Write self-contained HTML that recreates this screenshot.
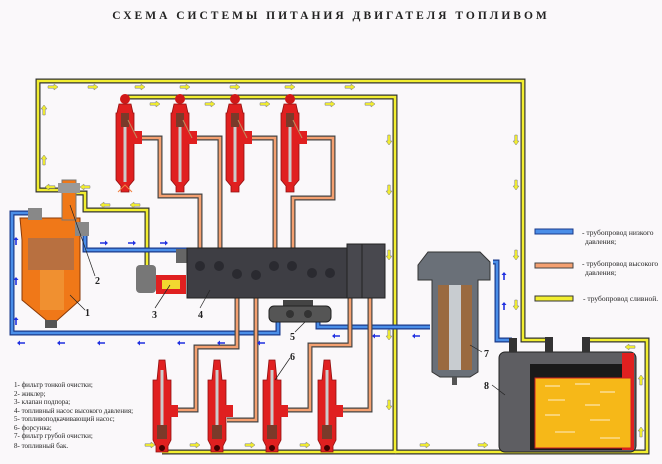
<!DOCTYPE html>
<html><head><meta charset="utf-8"><style>
html,body{margin:0;padding:0;background:#fbf9fb;}
svg{display:block}
text{font-family:"Liberation Serif",serif;}
</style></head><body>
<svg width="662" height="464" viewBox="0 0 662 464" xmlns="http://www.w3.org/2000/svg">
<defs>
<g id="ay"><path d="M0 -1.2 H6 V-3 L10 0 L6 3 V1.2 H0 Z" fill="#f2ee30" stroke="#777" stroke-width="0.5"/></g>
<g id="ab"><path d="M0 -0.8 H5 V-2.5 L8 0 L5 2.5 V0.8 H0 Z" fill="#2030e0"/></g>
</defs>
<rect width="662" height="464" fill="#faf8fa"/>
<text x="331" y="19" text-anchor="middle" font-size="11.5" font-weight="bold" letter-spacing="3" fill="#222">СХЕМА СИСТЕМЫ ПИТАНИЯ ДВИГАТЕЛЯ ТОПЛИВОМ</text>

<g fill="none" stroke-linejoin="miter">
<g stroke="#333" stroke-width="5">
<path d="M60 190 H38 V81 H523 V340 H548"/>
<path d="M125 97 H395 V452 H162"/>
<path d="M395 452 H647 V340 H588"/>
<path d="M70 193 H85 V210 H147 V265"/>
</g>
<g stroke="#f2ee30" stroke-width="2.6">
<path d="M60 190 H38 V81 H523 V340 H548"/>
<path d="M125 97 H395 V452 H162"/>
<path d="M395 452 H647 V340 H588"/>
<path d="M70 193 H85 V210 H147 V265"/>
</g>
<g stroke="#1a3a8a" stroke-width="5">
<path d="M28 213 H12 V333 H278 V320"/>
<path d="M85 228 V250 H185 V258"/>
<path d="M318 320 V327 H430"/>
<path d="M493 262 H497 V340 H512"/>
</g>
<g stroke="#4a8ee8" stroke-width="2.6">
<path d="M28 213 H12 V333 H278 V320"/>
<path d="M85 228 V250 H185 V258"/>
<path d="M318 320 V327 H430"/>
<path d="M493 262 H497 V340 H512"/>
</g>
<g stroke="#444" stroke-width="5">
<path d="M140 138 H160 V196 H200 V262"/>
<path d="M195 138 H220 V262"/>
<path d="M250 138 H275 V262"/>
<path d="M305 138 H333 V198 H293 V262"/>
<path d="M237 275 V347 H196 V410 H172"/>
<path d="M256 275 V420 H227"/>
<path d="M312 285 V292 H350 V345 H310 V410 H282"/>
<path d="M330 285 V289 H370 V410 H337"/>
</g>
<g stroke="#f4a070" stroke-width="2.6">
<path d="M140 138 H160 V196 H200 V262"/>
<path d="M195 138 H220 V262"/>
<path d="M250 138 H275 V262"/>
<path d="M305 138 H333 V198 H293 V262"/>
<path d="M237 275 V347 H196 V410 H172"/>
<path d="M256 275 V420 H227"/>
<path d="M312 285 V292 H350 V345 H310 V410 H282"/>
<path d="M330 285 V289 H370 V410 H337"/>
</g>
</g>

<use href="#ay" x="48" y="87"/><use href="#ay" x="88" y="87"/><use href="#ay" x="135" y="87"/><use href="#ay" x="180" y="87"/><use href="#ay" x="230" y="87"/><use href="#ay" x="285" y="87"/><use href="#ay" x="345" y="87"/>
<use href="#ay" x="150" y="104"/><use href="#ay" x="205" y="104"/><use href="#ay" x="260" y="104"/><use href="#ay" x="325" y="104"/><use href="#ay" x="365" y="104"/>
<use href="#ay" x="145" y="445"/><use href="#ay" x="190" y="445"/><use href="#ay" x="245" y="445"/><use href="#ay" x="300" y="445"/><use href="#ay" x="420" y="445"/><use href="#ay" x="478" y="445"/><use href="#ay" x="538" y="445"/><use href="#ay" x="598" y="445"/>
<g transform="rotate(90)"><use href="#ay" x="135" y="-389"/><use href="#ay" x="185" y="-389"/><use href="#ay" x="250" y="-389"/><use href="#ay" x="330" y="-389"/><use href="#ay" x="400" y="-389"/><use href="#ay" x="135" y="-516"/><use href="#ay" x="180" y="-516"/><use href="#ay" x="250" y="-516"/><use href="#ay" x="300" y="-516"/></g>
<g transform="rotate(-90)"><use href="#ay" x="-115" y="44"/><use href="#ay" x="-165" y="44"/><use href="#ay" x="-437" y="641"/><use href="#ay" x="-385" y="641"/></g>
<g transform="rotate(180)"><use href="#ay" x="-55" y="-187"/><use href="#ay" x="-90" y="-187"/><use href="#ay" x="-110" y="-205"/><use href="#ay" x="-140" y="-205"/><use href="#ay" x="-635" y="-347"/></g>
<g transform="rotate(180)"><use href="#ab" x="-25" y="-343"/><use href="#ab" x="-65" y="-343"/><use href="#ab" x="-105" y="-343"/><use href="#ab" x="-145" y="-343"/><use href="#ab" x="-185" y="-343"/><use href="#ab" x="-225" y="-343"/><use href="#ab" x="-265" y="-343"/><use href="#ab" x="-340" y="-336"/><use href="#ab" x="-380" y="-336"/><use href="#ab" x="-420" y="-336"/></g>
<use href="#ab" x="100" y="243"/><use href="#ab" x="128" y="243"/><use href="#ab" x="160" y="243"/>
<g transform="rotate(-90)"><use href="#ab" x="-325" y="16"/><use href="#ab" x="-285" y="16"/><use href="#ab" x="-245" y="16"/><use href="#ab" x="-310" y="504"/><use href="#ab" x="-280" y="504"/></g>

<g id="inj">
<g transform="translate(125,0)">
<circle cx="0" cy="99" r="5" fill="#d01818"/>
<path d="M-6 104 H6 L8 113 H9 V180 L4 186 V192 H-4 V186 L-9 180 V113 H-8 Z" fill="#e02020" stroke="#901010" stroke-width="0.8"/>
<rect x="8" y="131" width="9" height="13" fill="#e02020"/>
<rect x="-4" y="113" width="8" height="14" fill="#7a3a2a"/>
<rect x="-1.5" y="127" width="3" height="55" fill="#ccc"/>
<line x1="3" y1="120" x2="12" y2="138" stroke="#c09060"/>
</g>
</g>
<use href="#inj" x="55"/><use href="#inj" x="110"/><use href="#inj" x="165"/>
<path d="M118 192 L125 185 L132 192" stroke="#f08040" fill="none"/>

<g id="binj">
<g transform="translate(162,0)">
<path d="M-3 360 H3 L5 380 H9 V440 L6 446 V452 H-6 V446 L-9 440 V380 H-5 Z" fill="#e02020" stroke="#901010" stroke-width="0.8"/>
<rect x="-1.5" y="370" width="3" height="55" fill="#ccc"/>
<rect x="-5" y="425" width="10" height="14" fill="#7a3a2a"/>
<rect x="8" y="405" width="8" height="12" fill="#e02020"/>
<circle cx="0" cy="448" r="3" fill="#400"/>
</g>
</g>
<use href="#binj" x="55"/><use href="#binj" x="110"/><use href="#binj" x="165"/>

<path d="M20 218 H80 V240 L80 300 L52 325 L22 300 V240 Z" fill="#f07818" stroke="#8a3a08"/>
<rect x="28" y="238" width="46" height="32" fill="#b87040"/>
<rect x="40" y="270" width="24" height="40" fill="#f09030"/>
<rect x="45" y="320" width="12" height="8" fill="#555"/>
<rect x="28" y="208" width="14" height="12" fill="#888"/>
<rect x="62" y="180" width="14" height="40" fill="#f07818" stroke="#777"/>
<rect x="58" y="183" width="22" height="10" fill="#999"/>
<rect x="75" y="222" width="14" height="14" fill="#888"/>

<rect x="136" y="265" width="20" height="28" rx="4" fill="#777"/>
<rect x="156" y="275" width="30" height="19" fill="#e02020"/>
<rect x="162" y="280" width="18" height="9" fill="#f2d830"/>

<rect x="176" y="249" width="12" height="14" fill="#666"/>
<rect x="187" y="248" width="162" height="50" fill="#3e3e44" stroke="#222"/>
<rect x="347" y="244" width="38" height="54" fill="#48484e" stroke="#222"/>
<line x1="362" y1="244" x2="362" y2="298" stroke="#222"/>
<g fill="#2a2a30">
<circle cx="200" cy="266" r="5"/><circle cx="219" cy="266" r="5"/><circle cx="274" cy="266" r="5"/><circle cx="292" cy="266" r="5"/>
<circle cx="237" cy="274" r="5"/><circle cx="256" cy="275" r="5"/><circle cx="312" cy="273" r="5"/><circle cx="330" cy="273" r="5"/>
</g>
<rect x="283" y="300" width="30" height="8" fill="#444"/>
<rect x="269" y="306" width="62" height="16" rx="5" fill="#555" stroke="#222"/>
<circle cx="290" cy="314" r="4" fill="#333"/><circle cx="308" cy="314" r="4" fill="#333"/>

<path d="M418 265 L428 252 H480 L490 262 V280 H478 V372 L470 377 H440 L432 372 V280 H418 Z" fill="#6a7078" stroke="#333"/>
<rect x="438" y="285" width="34" height="85" fill="#9a6a40"/>
<rect x="449" y="285" width="12" height="85" fill="#c8ccd0"/>
<rect x="452" y="377" width="5" height="8" fill="#555"/>

<rect x="499" y="352" width="137" height="100" rx="6" fill="#5e5e62" stroke="#222"/>
<path d="M530 364 H630 V450 H530 Z" fill="#1a1a1a"/>
<path d="M622 353 H634 V450 H622 Z" fill="#e02020"/>
<rect x="535" y="378" width="96" height="70" fill="#f6b818" stroke="#d02020"/>
<g stroke="#fff" stroke-width="0.8">
<line x1="545" y1="386" x2="560" y2="386"/><line x1="575" y1="384" x2="590" y2="384"/><line x1="600" y1="392" x2="615" y2="392"/>
<line x1="548" y1="400" x2="565" y2="400"/><line x1="585" y1="405" x2="600" y2="405"/><line x1="545" y1="415" x2="560" y2="415"/>
<line x1="590" y1="420" x2="610" y2="420"/><line x1="555" y1="432" x2="575" y2="432"/><line x1="600" y1="438" x2="620" y2="438"/>
</g>
<g fill="#333"><rect x="509" y="338" width="8" height="14"/><rect x="545" y="337" width="8" height="15"/><rect x="582" y="337" width="8" height="15"/></g>

<g font-size="10" font-weight="bold" fill="#222">
<text x="85" y="316">1</text><text x="95" y="284">2</text><text x="152" y="318">3</text><text x="198" y="318">4</text>
<text x="290" y="340">5</text><text x="290" y="360">6</text><text x="484" y="357">7</text><text x="484" y="389">8</text>
</g>
<g stroke="#222" stroke-width="0.7">
<line x1="70" y1="295" x2="85" y2="310"/><line x1="70" y1="205" x2="95" y2="276"/><line x1="170" y1="285" x2="155" y2="308"/>
<line x1="210" y1="290" x2="200" y2="308"/><line x1="305" y1="322" x2="295" y2="332"/><line x1="275" y1="380" x2="290" y2="358"/>
<line x1="470" y1="345" x2="482" y2="352"/><line x1="492" y1="385" x2="505" y2="395"/>
</g>

<rect x="535" y="229" width="38" height="5" fill="#4a8ee8" stroke="#1a3a8a"/>
<rect x="535" y="263" width="38" height="5" fill="#f4a070" stroke="#444"/>
<rect x="535" y="296" width="38" height="5" fill="#f2ee30" stroke="#333"/>
<g font-size="7.5" fill="#222">
<text x="582" y="235">- трубопровод низкого</text><text x="585" y="244">давления;</text>
<text x="582" y="266">- трубопровод высокого</text><text x="585" y="275">давления;</text>
<text x="583" y="301">- трубопровод сливной.</text>
</g>
<g font-size="7" fill="#222">
<text x="14" y="387">1- фильтр тонкой очистки;</text>
<text x="14" y="396">2- жиклер;</text>
<text x="14" y="404">3- клапан подпора;</text>
<text x="14" y="413">4- топливный насос высокого давления;</text>
<text x="14" y="421">5- топливоподкачивающий насос;</text>
<text x="14" y="430">6- форсунка;</text>
<text x="14" y="438">7- фильтр грубой очистки;</text>
<text x="14" y="448">8- топливный бак.</text>
</g>
</svg>
</body></html>
